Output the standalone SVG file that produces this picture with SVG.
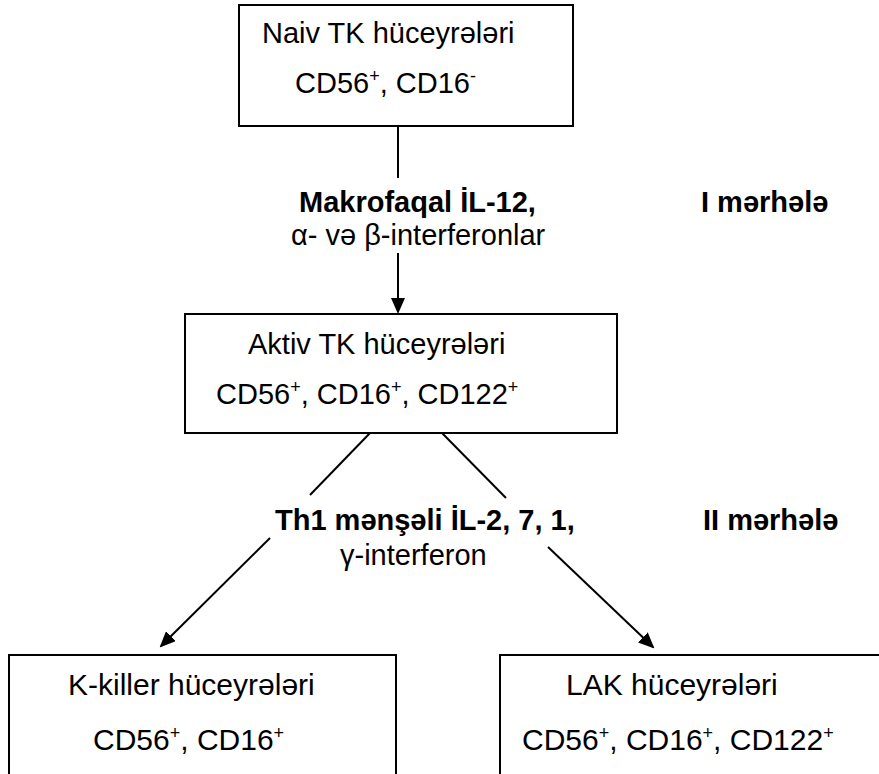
<svg xmlns="http://www.w3.org/2000/svg" width="879" height="774" viewBox="0 0 879 774">
  <style>
    .box { fill: #ffffff; stroke: #000000; stroke-width: 2; }
    .conn { stroke: #000000; stroke-width: 2; fill: none; }
    text { font-family: "Liberation Sans", Arial, sans-serif; font-size: 29px; fill: #000000; }
    .big { font-size: 30px; }
    .b { font-weight: bold; }
    .sup { font-size: 18px; }
  </style>
  <defs>
    <marker id="head" viewBox="0 0 16 14" refX="14" refY="7" markerWidth="16" markerHeight="14" markerUnits="userSpaceOnUse" orient="auto">
      <path d="M0,0 L16,7 L0,14 Z" fill="#000000"/>
    </marker>
  </defs>

  <!-- Connectors -->
  <g id="connectors">
    <line class="conn" x1="398" y1="126" x2="398" y2="178"/>
    <line class="conn" x1="398" y1="253" x2="398" y2="312" marker-end="url(#head)"/>
    <line class="conn" x1="370" y1="433" x2="310" y2="495"/>
    <line class="conn" x1="442" y1="433" x2="506" y2="498"/>
    <line class="conn" x1="270" y1="538" x2="161" y2="646" marker-end="url(#head)"/>
    <line class="conn" x1="548" y1="547" x2="653" y2="647" marker-end="url(#head)"/>
  </g>

  <!-- Stage labels -->
  <g id="stage1-label">
    <text class="b" x="299" y="212">Makrofaqal İL-12,</text>
    <text x="291" y="245">α- və β-interferonlar</text>
    <text class="b" x="701" y="212">I mərhələ</text>
  </g>
  <g id="stage2-label">
    <text class="b" x="275" y="530">Th1 mənşəli İL-2, 7, 1,</text>
    <text x="340" y="565">γ-interferon</text>
    <text class="b" x="703" y="530">II mərhələ</text>
  </g>

  <!-- Nodes -->
  <g id="naive-nk">
    <rect class="box" x="239" y="5" width="334" height="121"/>
    <text x="262" y="43">Naiv TK hüceyrələri</text>
    <text x="295" y="93">CD56<tspan class="sup" dy="-11">+</tspan><tspan dy="11">, CD16</tspan><tspan class="sup" dy="-11">-</tspan></text>
  </g>

  <g id="active-nk">
    <rect class="box" x="185" y="314" width="432" height="119"/>
    <text x="248" y="354">Aktiv TK hüceyrələri</text>
    <text x="216" y="404">CD56<tspan class="sup" dy="-11">+</tspan><tspan dy="11">, CD16</tspan><tspan class="sup" dy="-11">+</tspan><tspan dy="11">, CD122</tspan><tspan class="sup" dy="-11">+</tspan></text>
  </g>

  <g id="k-killer">
    <rect class="box" x="9" y="655" width="387" height="140"/>
    <text class="big" x="68" y="695">K-killer hüceyrələri</text>
    <text class="big" x="93" y="750">CD56<tspan class="sup" dy="-11">+</tspan><tspan dy="11">, CD16</tspan><tspan class="sup" dy="-11">+</tspan></text>
  </g>

  <g id="lak">
    <rect class="box" x="500" y="655" width="400" height="140"/>
    <text class="big" x="566" y="695">LAK hüceyrələri</text>
    <text class="big" x="522" y="750">CD56<tspan class="sup" dy="-11">+</tspan><tspan dy="11">, CD16</tspan><tspan class="sup" dy="-11">+</tspan><tspan dy="11">, CD122</tspan><tspan class="sup" dy="-11">+</tspan></text>
  </g>
</svg>
